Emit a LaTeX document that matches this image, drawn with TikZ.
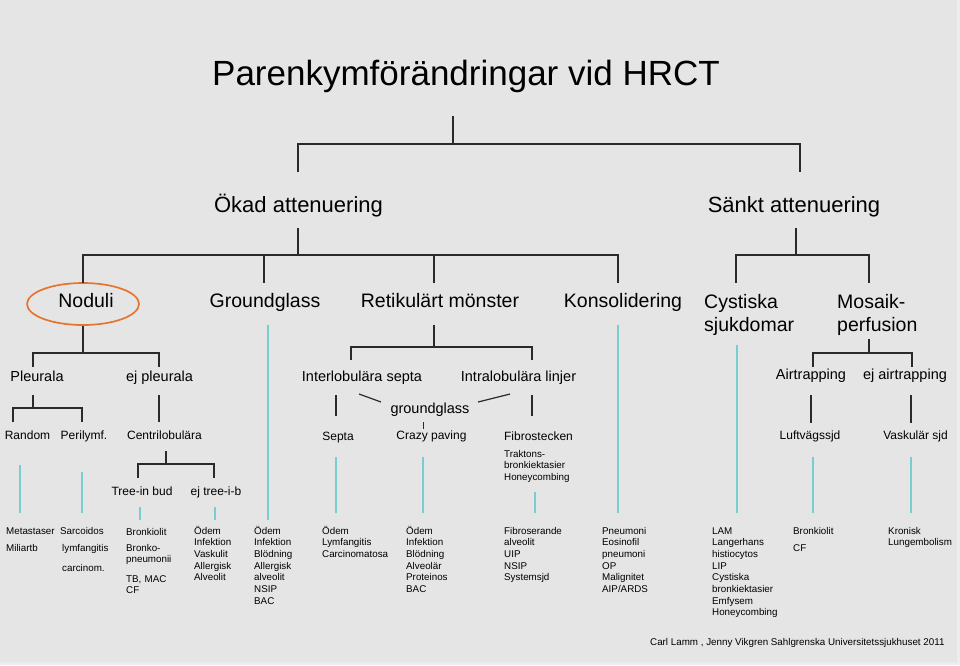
\documentclass[tikz,border=0pt]{standalone}
\usepackage{fontspec}
\setmainfont{Liberation Sans}
\usetikzlibrary{shapes.geometric}
\definecolor{bgc}{HTML}{E5E5E5}
\definecolor{bgedge}{HTML}{EDEDED}
\definecolor{linec}{HTML}{2A2A2A}
\definecolor{tealc}{HTML}{78CDCE}
\definecolor{orangec}{HTML}{E5742F}
\tikzset{
  conn/.style={draw=linec, line width=1.2pt},
  tealline/.style={draw=tealc, line width=1.8pt},
  txt/.style={inner sep=0pt, outer sep=0pt, anchor=base, text=black},
  ftitle/.style={txt, font=\fontsize{35}{40}\selectfont},
  fone/.style={txt, font=\fontsize{22}{26}\selectfont},
  ftwo/.style={txt, font=\fontsize{19.5}{23}\selectfont},
  ftwoml/.style={inner sep=0pt, anchor=base west, align=left, text width=110pt, font=\fontsize{19.5}{23}\selectfont},
  fthree/.style={txt, font=\fontsize{14.5}{17}\selectfont},
  ffour/.style={txt, font=\fontsize{12}{14}\selectfont},
  fsmall/.style={inner sep=0pt, anchor=base west, align=left, text width=90pt, font=\fontsize{9.8}{11.7}\selectfont},
  fsmallone/.style={inner sep=0pt, anchor=base west, font=\fontsize{9.8}{11.7}\selectfont},
}
\begin{document}
\begin{tikzpicture}[x=1pt,y=-1pt]
\useasboundingbox (0,0) rectangle (960,665);
\fill[bgedge] (0,0) rectangle (960,665);
\fill[bgc] (0,0) rectangle (957,662);

% ---- text nodes ----
\node[ftitle] (title) at (466,85) {Parenkymförändringar vid HRCT};
\node[fone] (okad) at (298.5,212) {Ökad attenuering};
\node[fone] (sankt) at (794,212) {Sänkt attenuering};

\node[ftwo] (noduli) at (86,307) {Noduli};
\node[draw=orangec, line width=1.7pt, ellipse, inner sep=0pt, minimum width=112pt, minimum height=42pt] (ring) at (83,304) {};
\node[ftwo] (groundglass) at (265,307) {Groundglass};
\node[ftwo] (retik) at (440,307) {Retikulärt mönster};
\node[ftwo] (konsol) at (623,307) {Konsolidering};
\node[ftwoml] (cyst) at (704,308) {Cystiska\\sjukdomar};
\node[ftwoml] (mosaik) at (837,308) {Mosaik-\\perfusion};

\node[fthree] (pleurala) at (37,381) {Pleurala};
\node[fthree] (ejpleurala) at (159.5,381) {ej pleurala};
\node[fthree] (interlob) at (362,381) {Interlobulära septa};
\node[fthree] (intralob) at (518.5,381) {Intralobulära linjer};
\node[fthree] (airtrap) at (811,379) {Airtrapping};
\node[fthree] (ejairtrap) at (905,379) {ej airtrapping};
\node[fthree] (ggsmall) at (430,413) {groundglass};

\node[ffour] (random) at (27.5,439) {Random};
\node[ffour] (perilymf) at (84,439) {Perilymf.};
\node[ffour] (centri) at (164.5,439) {Centrilobulära};
\node[ffour] (septa) at (338,440) {Septa};
\node[ffour] (crazy) at (431.5,439) {Crazy paving};
\node[ffour] (fibro) at (538.5,440) {Fibrostecken};
\node[ffour] (luftv) at (810,439) {Luftvägssjd};
\node[ffour] (vask) at (915.5,439) {Vaskulär sjd};
\node[ffour] (treein) at (142,495) {Tree-in bud};
\node[ffour] (ejtree) at (216,495) {ej tree-i-b};

\node[fsmall] (trakt) at (504,457) {Traktons-\\bronkiektasier\\Honeycombing};

% ---- bottom lists ----
\node[fsmallone] (meta) at (6,534) {Metastaser};
\node[fsmallone] (miliar) at (6,551) {Miliartb};
\node[fsmallone] (sarc) at (60,534) {Sarcoidos};
\node[fsmallone] (lymf) at (62,551) {lymfangitis};
\node[fsmallone] (carc) at (62,571) {carcinom.};
\node[fsmallone] (bronk1) at (126,535) {Bronkiolit};
\node[fsmall] (bronk2) at (126,551) {Bronko-\\pneumonii};
\node[fsmall] (bronk3) at (126,582) {TB, MAC\\CF};
\node[fsmall] (odem1) at (194,534) {Ödem\\Infektion\\Vaskulit\\Allergisk\\Alveolit};
\node[fsmall] (odem2) at (254,534) {Ödem\\Infektion\\Blödning\\Allergisk\\alveolit\\NSIP\\BAC};
\node[fsmall] (odem3) at (322,534) {Ödem\\Lymfangitis\\Carcinomatosa};
\node[fsmall] (odem4) at (406,534) {Ödem\\Infektion\\Blödning\\Alveolär\\Proteinos\\BAC};
\node[fsmall] (fibrolist) at (504,534) {Fibroserande\\alveolit\\UIP\\NSIP\\Systemsjd};
\node[fsmall] (pneu) at (602,534) {Pneumoni\\Eosinofil\\pneumoni\\OP\\Malignitet\\AIP/ARDS};
\node[fsmall] (lam) at (712,534) {LAM\\Langerhans\\histiocytos\\LIP\\Cystiska\\bronkiektasier\\Emfysem\\Honeycombing};
\node[fsmallone] (bronk4) at (793,534) {Bronkiolit};
\node[fsmallone] (cf) at (793,551) {CF};
\node[fsmall] (kron) at (888,534) {Kronisk\\Lungembolism};
\node[fsmallone] (credit) at (650,645) {Carl Lamm , Jenny Vikgren Sahlgrenska Universitetssjukhuset 2011};

% ---- connector coordinates ----
\coordinate (t0) at (453,116);
\coordinate (b0) at (453,144);
\coordinate (okT) at (298,172);
\coordinate (saT) at (800,172);
\draw[conn] (t0) -- (b0);
\draw[conn] (okT) |- (b0) -| (saT);

\coordinate (okB) at (298,228);
\coordinate (okBar) at (298,255);
\coordinate (noT) at (83,283);
\coordinate (grT) at (264,283);
\coordinate (reT) at (434,283);
\coordinate (koT) at (618,283);
\draw[conn] (okB) -- (okBar);
\draw[conn] (noT) |- (okBar) -| (koT);
\draw[conn] (grT) -- (grT |- okBar);
\draw[conn] (reT) -- (reT |- okBar);

\coordinate (saB) at (796,228);
\coordinate (saBar) at (796,255);
\coordinate (cyT) at (736,283);
\coordinate (moT) at (869,283);
\draw[conn] (saB) -- (saBar);
\draw[conn] (cyT) |- (saBar) -| (moT);

\coordinate (noBar) at (83,353);
\coordinate (plT) at (33,367);
\coordinate (epT) at (159,367);
\draw[conn] (ring.south) -- (noBar);
\draw[conn] (plT) |- (noBar) -| (epT);

\coordinate (plB) at (33,395);
\coordinate (plBar) at (33,408);
\coordinate (raT) at (13,422);
\coordinate (peT) at (82,422);
\draw[conn] (plB) -- (plBar);
\draw[conn] (raT) |- (plBar) -| (peT);

\coordinate (epB) at (159,395);
\coordinate (ceT) at (159,422);
\draw[conn] (epB) -- (ceT);

\coordinate (ceB) at (166,451);
\coordinate (ceBar) at (166,464);
\coordinate (tbT) at (138,478);
\coordinate (etT) at (214,478);
\draw[conn] (ceB) -- (ceBar);
\draw[conn] (tbT) |- (ceBar) -| (etT);

\coordinate (reB) at (434,325);
\coordinate (reBar) at (434,347);
\coordinate (ilT) at (351,360);
\coordinate (inT) at (532,360);
\draw[conn] (reB) -- (reBar);
\draw[conn] (ilT) |- (reBar) -| (inT);

\coordinate (ilB) at (336,395);
\coordinate (seT) at (336,416);
\draw[conn] (ilB) -- (seT);
\coordinate (ilD) at (359,394);
\coordinate (ggL) at (381,402);
\draw[conn] (ilD) -- (ggL);
\coordinate (inB) at (532,395);
\coordinate (fiT) at (532,416);
\draw[conn] (inB) -- (fiT);
\coordinate (inD) at (510,394);
\coordinate (ggR) at (478,402);
\draw[conn] (inD) -- (ggR);
\coordinate (ggB) at (423,422);
\coordinate (crT) at (423,429);
\draw[conn, line width=0.9pt] (ggB) -- (crT);

\coordinate (moB) at (869,339);
\coordinate (moBar) at (869,353);
\coordinate (atT) at (813,367);
\coordinate (eaT) at (912,367);
\draw[conn] (moB) -- (moBar);
\draw[conn] (atT) |- (moBar) -| (eaT);

\coordinate (atB) at (811,395);
\coordinate (luT) at (811,423);
\draw[conn] (atB) -- (luT);
\coordinate (eaB) at (911,395);
\coordinate (vaT) at (911,423);
\draw[conn] (eaB) -- (vaT);

% ---- teal guide lines ----
\draw[tealline] (20,465) -- (20,513);
\draw[tealline] (82,472) -- (82,513);
\draw[tealline] (140,507) -- (140,520);
\draw[tealline] (215,507) -- (215,520);
\draw[tealline] (268,325) -- (268,520);
\draw[tealline] (336,457) -- (336,513);
\draw[tealline] (423,457) -- (423,513);
\draw[tealline] (535,492) -- (535,513);
\draw[tealline] (618,325) -- (618,513);
\draw[tealline] (737,345) -- (737,513);
\draw[tealline] (813,457) -- (813,513);
\draw[tealline] (911,457) -- (911,513);
\end{tikzpicture}
\end{document}
